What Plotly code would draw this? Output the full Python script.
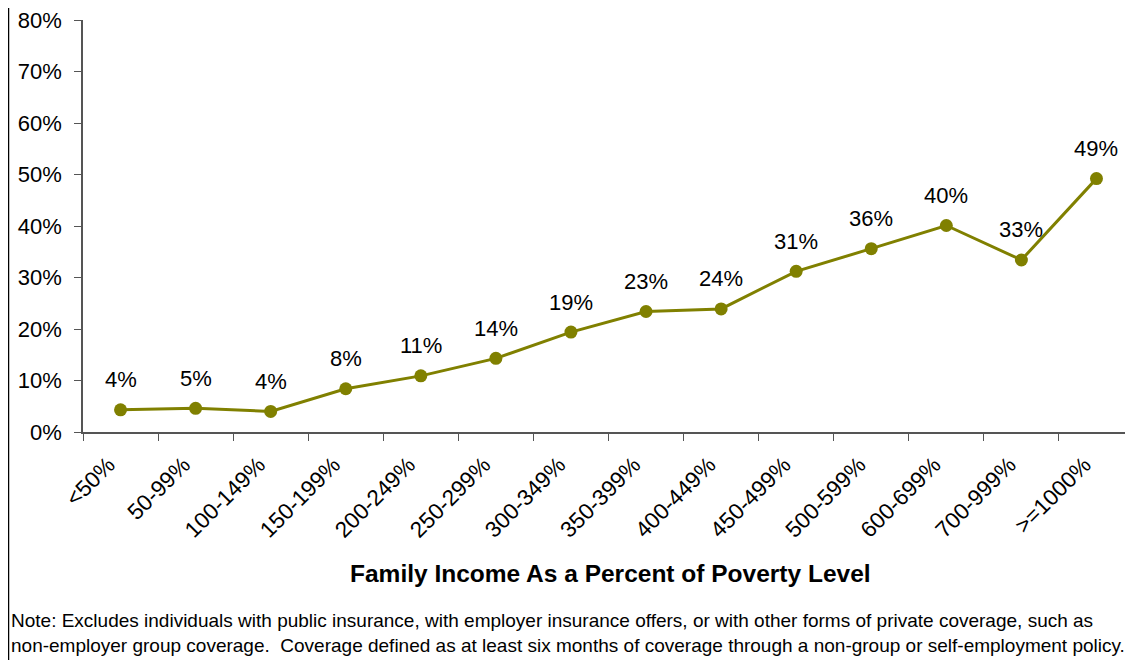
import plotly.graph_objects as go

categories = ["<50%", "50-99%", "100-149%", "150-199%", "200-249%", "250-299%",
              "300-349%", "350-399%", "400-449%", "450-499%", "500-599%",
              "600-699%", "700-999%", ">=1000%"]
values = [0.043, 0.046, 0.040, 0.084, 0.109, 0.143, 0.194, 0.234, 0.239,
          0.312, 0.356, 0.401, 0.334, 0.492]
y_ticks = [0, 0.1, 0.2, 0.3, 0.4, 0.5, 0.6, 0.7, 0.8]
x_title = "Family Income As a Percent of Poverty Level"
note_lines = [
    "Note: Excludes individuals with public insurance, with employer insurance offers, or with other forms of private coverage, such as",
    "non-employer group coverage.  Coverage defined as at least six months of coverage through a non-group or self-employment policy.",
]

FONT = "Liberation Sans, Arial, sans-serif"
OLIVE = "#808000"
OFF = 8  # page offset of the figure (body margin)

W, H = 1133, 660
L, R, T, B = 83 - OFF, W - (1134 - OFF), 20 - OFF, H - (432 - OFF)
pw = W - L - R
ph = H - T - B

def px_to_paper_x(px):
    return (px - OFF - L) / pw

def px_to_paper_y(py):
    return (H - B - (py - OFF)) / ph

fig = go.Figure()
fig.add_trace(go.Scatter(
    x=categories, y=values, mode="lines+markers",
    line=dict(color=OLIVE, width=3),
    marker=dict(color=OLIVE, size=13),
    hoverinfo="skip", showlegend=False,
))

for c, v in zip(categories, values):
    fig.add_annotation(x=c, y=v, text=f"{round(v*100)}%", showarrow=False,
                       yanchor="middle", yshift=30,
                       font=dict(family=FONT, size=22, color="#000000"))

fig.add_annotation(xref="paper", yref="paper", x=px_to_paper_x(610), y=px_to_paper_y(573),
                   text=f"<b>{x_title}</b>", showarrow=False, xanchor="center", yanchor="middle",
                   font=dict(family=FONT, size=24.5, color="#000000"))

for i, line in enumerate(note_lines):
    fig.add_annotation(xref="paper", yref="paper", x=px_to_paper_x(9), y=px_to_paper_y(620 + 25 * i),
                       text=line, showarrow=False, xanchor="left", yanchor="middle",
                       font=dict(family=FONT, size=19.0, color="#000000"))

# left frame border
fig.add_shape(type="line", xref="paper", yref="paper",
              x0=px_to_paper_x(OFF + 0.5), x1=px_to_paper_x(OFF + 0.5),
              y0=px_to_paper_y(0), y1=px_to_paper_y(700),
              line=dict(color="#000000", width=1.5))

fig.update_layout(
    width=W, height=H,
    margin=dict(l=L, r=R, t=T, b=B),
    paper_bgcolor="white", plot_bgcolor="white",
    font=dict(family=FONT, color="#000000"),
    xaxis=dict(
        type="category", tickangle=-45, tickson="boundaries",
        ticks="outside", ticklen=7, tickcolor="#555555",
        showline=True, linecolor="#555555", linewidth=1.5,
        showgrid=False, zeroline=False, automargin=False,
        tickfont=dict(family=FONT, size=22.5, color="#000000"),
        ticklabelstandoff=9, ticklabelshift=-12,
        range=[-0.5, len(categories) - 0.5],
    ),
    yaxis=dict(
        range=[0, 0.8], tickvals=y_ticks, tickformat=".0%",
        ticks="outside", ticklen=7, tickcolor="#555555",
        showline=True, linecolor="#555555", linewidth=1.5,
        showgrid=False, zeroline=False, automargin=False,
        tickfont=dict(family=FONT, size=22, color="#000000"),
        ticklabelstandoff=8, ticklabeloverflow="allow",
    ),
)

fig.write_html("out.html")
